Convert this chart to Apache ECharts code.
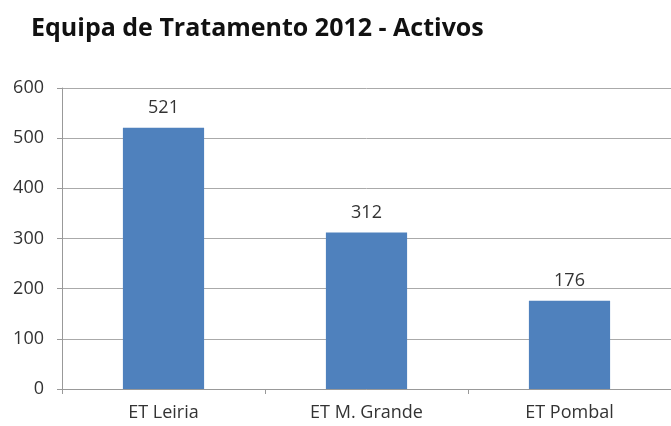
<!DOCTYPE html>
<html><head><meta charset="utf-8">
<script src="https://cdn.jsdelivr.net/npm/echarts@6/dist/echarts.min.js"></script>
<style>html,body{margin:0;padding:0;background:#fff}#c{width:671px;height:426px}</style>
</head><body><div id="c"></div>
<script>
const categories = ['ET Leiria', 'ET M. Grande', 'ET Pombal'];
const values = [521, 312, 176];
const yTicks = [0, 100, 200, 300, 400, 500, 600];
const chart = echarts.init(document.getElementById('c'), null, {renderer: 'canvas'});
chart.setOption({
  animation: false,
  title: {
    text: 'Equipa de Tratamento 2012 - Activos',
    left: 26, top: 11,
    textStyle: {fontFamily: 'Open Sans', fontWeight: 'bold', fontSize: 25, color: '#111'}
  },
  grid: {left: 62, right: -3, top: 88, bottom: 37, containLabel: false},
  xAxis: {
    type: 'category', data: categories,
    axisLine: {lineStyle: {color: '#999', width: 1}},
    axisTick: {show: true, alignWithLabel: false, length: 5, lineStyle: {color: '#999'}},
    axisLabel: {color: '#333', fontFamily: 'Open Sans', fontSize: 18, margin: 15}
  },
  yAxis: {
    type: 'value', min: yTicks[0], max: yTicks[yTicks.length - 1], interval: 100,
    axisLine: {show: true, lineStyle: {color: '#999', width: 1}},
    axisTick: {show: true, length: 5, lineStyle: {color: '#999'}},
    splitLine: {lineStyle: {color: '#aaa', width: 1}},
    axisLabel: {color: '#333', fontFamily: 'Open Sans', fontSize: 18, margin: 18}
  },
  series: [{
    type: 'bar', data: values, barWidth: '40%',
    itemStyle: {color: '#4f81bd'},
    label: {show: true, position: 'top', distance: 11, color: '#333', fontFamily: 'Open Sans', fontSize: 18}
  }]
});
</script></body></html>
